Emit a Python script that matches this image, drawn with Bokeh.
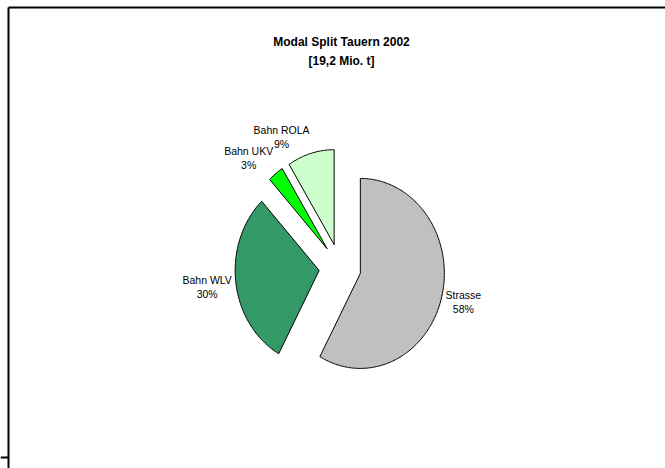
import numpy as np
from bokeh.plotting import figure
from bokeh.models import Range1d, ColumnDataSource, Label
from bokeh.core.properties import value
from bokeh.embed import file_html
from bokeh.resources import INLINE

# ---- data ----
categories = ["Strasse", "Bahn WLV", "Bahn UKV", "Bahn ROLA"]
shares = [58, 30, 3, 9]          # percent
colors = ["#C0C0C0", "#339966", "#00FF00", "#CCFFCC"]
title_lines = ["Modal Split Tauern 2002", "[19,2 Mio. t]"]

# ---- layout (pixel-like data space) ----
W, H = 665, 468
CX, CY = 339.5, 267.0
RX, RY = 84.0, 95.0
EXPLODE = 0.25
GAP = 4.0
FONT = "Liberation Sans"

p = figure(width=W, height=H, output_backend="svg", toolbar_location=None,
           x_range=Range1d(0, W), y_range=Range1d(H, 0),
           min_border=0, min_border_left=0, min_border_right=0,
           min_border_top=0, min_border_bottom=0)
p.axis.visible = False
p.grid.visible = False
p.outline_line_color = None
p.background_fill_color = "white"
p.border_fill_color = "white"

total = float(sum(shares))
xs, ys, lx, ly, ltxt, lanchor = [], [], [], [], [], []
start = np.pi / 2
for cat, s in zip(categories, shares):
    sweep = 2 * np.pi * s / total
    end = start - sweep
    mid = (start + end) / 2
    ox, oy = RX * EXPLODE * np.cos(mid), -RY * EXPLODE * np.sin(mid)
    th = np.linspace(start, end, max(8, int(s * 4)))
    px = CX + ox + RX * np.cos(th)
    py = CY + oy - RY * np.sin(th)
    xs.append([CX + ox] + list(px))
    ys.append([CY + oy] + list(py))
    # label anchor at outer edge of exploded slice
    c, sn = np.cos(mid), np.sin(mid)
    ax = CX + ox + RX * c + GAP * c
    ay = CY + oy - RY * sn - GAP * sn
    h = "right" if c < -0.2 else ("left" if c > 0.2 else "center")
    v = "bottom" if sn > 0.45 else ("top" if sn < -0.45 else "center")
    if v == "center":
        ay += 4
        anc = "center" if h == "center" else f"center_{h}"
    else:
        anc = f"{v}_{h}"
    lx.append(ax); ly.append(ay)
    ltxt.append(f"{cat}\n{round(100 * s / total)}%")
    lanchor.append(anc)
    start = end

src = ColumnDataSource(dict(xs=xs, ys=ys, color=colors))
p.patches("xs", "ys", source=src, fill_color="color",
          line_color="black", line_width=1)

lsrc = ColumnDataSource(dict(x=lx, y=ly, text=ltxt, anchor=lanchor))
p.text("x", "y", text="text", source=lsrc, anchor="anchor",
       text_align="center", text_font=value(FONT),
       text_font_size="10.5px", text_color="black", text_line_height=1.12)

# title
p.add_layout(Label(x=CX + 1.5, y=41, text=title_lines[0], text_align="center",
                   text_baseline="middle", text_font=FONT, text_font_size="12px",
                   text_font_style="bold", text_color="black"))
p.add_layout(Label(x=CX + 1.5, y=60, text=title_lines[1], text_align="center",
                   text_baseline="middle", text_font=FONT, text_font_size="12px",
                   text_font_style="bold", text_color="black"))

# chart frame (cropped): top and left edges, plus stub at bottom-left
p.segment(x0=[8, 8, 0], y0=[7, 7, 457], x1=[W + 5, 8, 8], y1=[7, H + 5, 457],
          line_color="black", line_width=2)

open("out.html", "w").write(file_html(p, INLINE))
